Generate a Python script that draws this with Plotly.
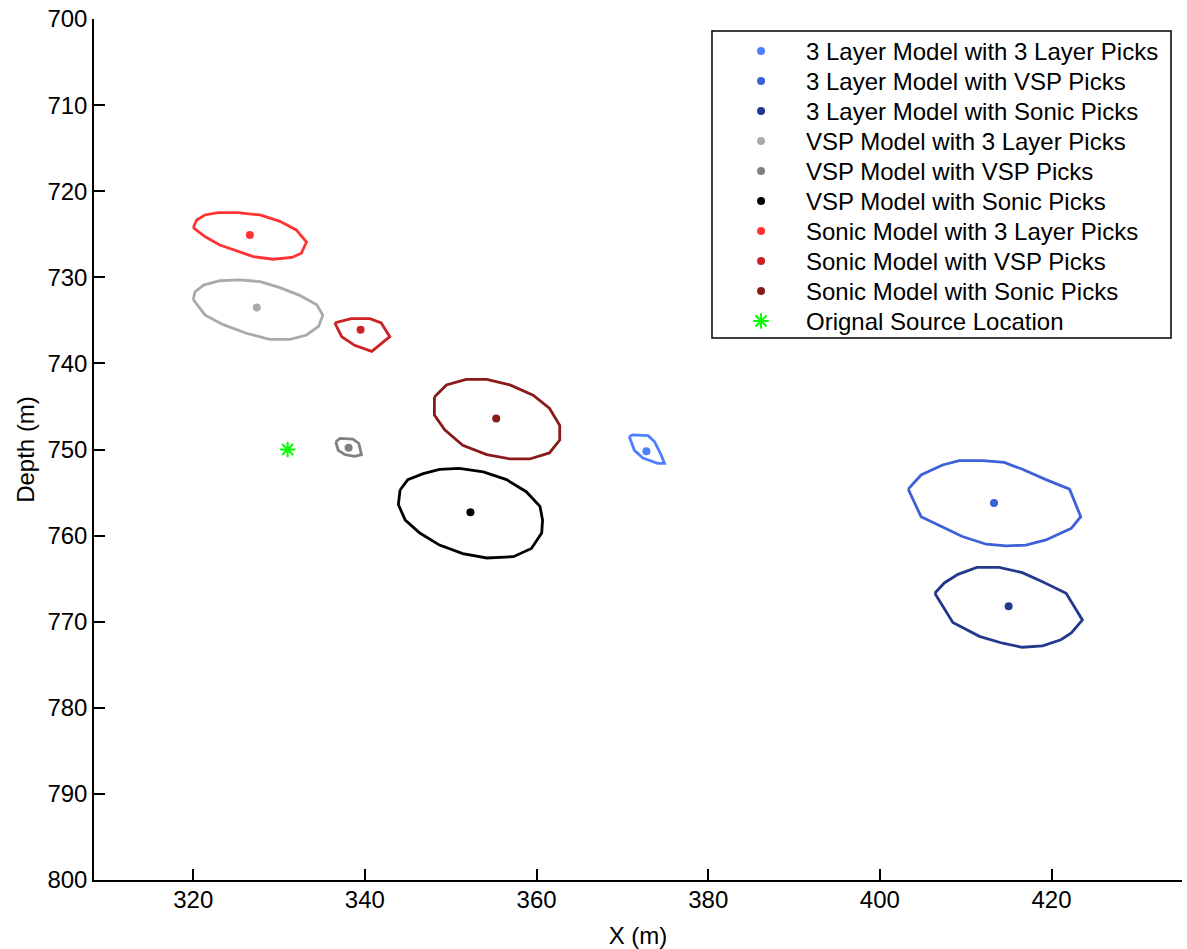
import plotly.graph_objects as go

# ---- data ----
names = [
    "3 Layer Model with 3 Layer Picks",
    "3 Layer Model with VSP Picks",
    "3 Layer Model with Sonic Picks",
    "VSP Model with 3 Layer Picks",
    "VSP Model with VSP Picks",
    "VSP Model with Sonic Picks",
    "Sonic Model with 3 Layer Picks",
    "Sonic Model with VSP Picks",
    "Sonic Model with Sonic Picks",
]
source_name = "Orignal Source Location"
colors = [
    "rgb(77,128,255)", "rgb(61,97,214)", "rgb(35,58,140)",
    "rgb(170,170,170)", "rgb(128,128,128)", "rgb(0,0,0)",
    "rgb(255,51,51)", "rgb(204,34,34)", "rgb(136,26,26)",
]
source_color = "rgb(0,255,0)"
center_x = [372.8, 413.3, 415.0, 327.4, 338.1, 352.3, 326.6, 339.5, 355.3]
center_y = [750.2, 756.2, 768.2, 733.5, 749.8, 757.3, 725.1, 736.1, 746.4]

source_x = [331.0]
source_y = [750.0]

# confidence contours (polygon vertices)
c1_x = [370.8, 371.2, 373.0, 373.75, 374.5, 374.9, 374.1, 372.4, 371.4]
c1_y = [748.5, 748.3, 748.4, 749.1, 750.6, 751.6, 751.6, 751.0, 750.1]

c2_x = [403.3, 404.8, 407.3, 409.25, 412.0, 414.5, 416.6, 419.35, 422.1, 423.4, 422.3,
        419.35, 417.0, 414.7, 412.4, 409.6, 407.3, 404.8]
c2_y = [754.6, 752.96, 751.8, 751.3, 751.3, 751.5, 752.3, 753.5, 754.6, 757.8, 759.15,
        760.5, 761.1, 761.2, 761.0, 760.1, 759.0, 757.8]

c3_x = [406.4, 407.5, 409.1, 411.3, 413.9, 416.6, 418.95, 421.7, 423.6, 422.3, 421.1,
        418.95, 416.6, 414.3, 411.6, 408.5]
c3_y = [766.7, 765.5, 764.5, 763.7, 763.7, 764.3, 765.35, 766.7, 769.8, 771.3, 772.1,
        772.8, 772.97, 772.5, 771.7, 770.1]

c4_x = [320.0, 320.2, 321.2, 323.1, 325.4, 327.8, 330.1, 332.4, 334.4, 335.1, 334.6,
        333.2, 331.3, 328.9, 326.2, 323.5, 321.4]
c4_y = [732.6, 731.7, 730.9, 730.4, 730.3, 730.5, 731.2, 732.1, 733.2, 734.4, 735.7,
        736.7, 737.2, 737.2, 736.5, 735.5, 734.4]

c5_x = [336.6, 337.1, 338.6, 339.3, 339.6, 338.8, 337.7, 336.9]
c5_y = [749.1, 748.7, 748.8, 749.3, 750.6, 750.8, 750.6, 750.1]

c6_x = [344.1, 345.0, 346.8, 348.7, 351.0, 353.8, 356.5, 358.8, 360.4, 360.7, 360.6,
        359.4, 357.3, 354.2, 351.4, 348.7, 346.4, 344.7, 343.9]
c6_y = [754.7, 753.5, 752.8, 752.3, 752.2, 752.6, 753.5, 754.9, 756.6, 758.2, 759.7,
        761.5, 762.45, 762.6, 762.1, 761.1, 759.7, 758.2, 756.4]

c7_x = [320.0, 320.4, 321.36, 322.9, 325.2, 327.8, 330.1, 332.0, 333.2, 332.6, 331.5,
        329.3, 327.0, 324.7, 323.1, 321.4]
c7_y = [724.24, 723.35, 722.76, 722.5, 722.5, 722.76, 723.5, 724.5, 725.9, 727.2, 727.7,
        727.9, 727.6, 726.8, 726.25, 725.3]

c8_x = [336.5, 338.4, 340.6, 341.9, 342.9, 340.8, 338.8, 337.3]
c8_y = [735.3, 734.8, 734.8, 735.3, 736.9, 738.6, 737.9, 736.9]

c9_x = [348.1, 349.5, 351.8, 354.2, 356.9, 359.6, 361.5, 362.7, 362.7, 361.5, 359.2,
        356.9, 354.2, 351.4, 349.3, 348.1]
c9_y = [743.9, 742.5, 741.85, 741.85, 742.5, 743.7, 745.2, 747.2, 748.9, 750.4, 751.1,
        751.1, 750.6, 749.5, 747.7, 746.0]

contours_x = [c1_x, c2_x, c3_x, c4_x, c5_x, c6_x, c7_x, c8_x, c9_x]
contours_y = [c1_y, c2_y, c3_y, c4_y, c5_y, c6_y, c7_y, c8_y, c9_y]

x_ticks = [320, 340, 360, 380, 400, 420]
y_ticks = [700, 710, 720, 730, 740, 750, 760, 770, 780, 790, 800]

FONT = "Liberation Sans, Arial, Helvetica, sans-serif"

fig = go.Figure()

# contours
for cx, cy, col in zip(contours_x, contours_y, colors):
    fig.add_trace(go.Scatter(
        x=cx + cx[:1], y=cy + cy[:1], mode="lines",
        line=dict(color=col, width=2.8), showlegend=False, hoverinfo="skip"))

# centre points
for i, n in enumerate(names):
    fig.add_trace(go.Scatter(
        x=[center_x[i]], y=[center_y[i]], mode="markers", name=n, showlegend=False,
        marker=dict(color=colors[i], size=8)))

star = dict(symbol="asterisk", color=source_color, size=13,
            line=dict(color=source_color, width=2))
fig.add_trace(go.Scatter(x=source_x, y=source_y, mode="markers", name=source_name,
                         showlegend=False, marker=star))

# ---- custom legend (box, symbols, labels) ----
leg_names = names + [source_name]
leg_x0, leg_x1, leg_y0, leg_y1 = 0.568, 0.9899, 0.6295, 0.9861
sym_x, txt_x = 0.6131, 0.6526
row0, row_step = 0.9628, 0.03484
rows = [row0 - row_step * i for i in range(len(leg_names))]

fig.add_shape(type="rect", xref="paper", yref="paper",
              x0=leg_x0, x1=leg_x1, y0=leg_y0, y1=leg_y1,
              line=dict(color="black", width=1.5), fillcolor="white", layer="below")
fig.add_trace(go.Scatter(
    x=[sym_x] * 9, y=rows[:9], xaxis="x2", yaxis="y2", mode="markers",
    marker=dict(color=colors, size=8), showlegend=False, hoverinfo="skip"))
fig.add_trace(go.Scatter(
    x=[sym_x], y=rows[9:], xaxis="x2", yaxis="y2", mode="markers",
    marker=star, showlegend=False, hoverinfo="skip"))
for n, ry in zip(leg_names, rows):
    fig.add_annotation(text=n, xref="paper", yref="paper", x=txt_x, y=ry,
                       xanchor="left", yanchor="middle", showarrow=False,
                       font=dict(family=FONT, size=24, color="black"))

fig.update_layout(
    width=1187, height=949,
    margin=dict(l=94, r=5, t=19, b=69, autoexpand=False),
    paper_bgcolor="white", plot_bgcolor="white",
    font=dict(family=FONT, size=24, color="black"),
    showlegend=False,
    xaxis=dict(
        range=[308.44, 435.2], tickvals=x_ticks, ticks="inside", ticklen=11,
        tickwidth=1.5, tickcolor="black", showline=True, linecolor="black",
        linewidth=1.5, showgrid=False, zeroline=False, mirror=False,
        title=dict(text="X (m)", standoff=17, font=dict(family=FONT, size=24)),
        tickfont=dict(family=FONT, size=24), ticklabelstandoff=-3,
        ticklabeloverflow="allow",
    ),
    yaxis=dict(
        range=[800, 700], tickvals=y_ticks, ticks="inside", ticklen=11,
        tickwidth=1.5, tickcolor="black", showline=True, linecolor="black",
        linewidth=1.5, showgrid=False, zeroline=False, mirror=False,
        title=dict(text="Depth (m)", standoff=6, font=dict(family=FONT, size=24)),
        tickfont=dict(family=FONT, size=24), ticklabelstandoff=0,
        ticklabeloverflow="allow",
    ),
    xaxis2=dict(overlaying="x", range=[0, 1], visible=False, fixedrange=True),
    yaxis2=dict(overlaying="y", range=[0, 1], visible=False, fixedrange=True),
)

# remove the default 8px page margin so the figure fills the window exactly
fig.write_html("out.html",
               config={"displayModeBar": False},
               post_script="document.body.style.margin='0';"
                           "document.body.style.overflow='hidden';")
